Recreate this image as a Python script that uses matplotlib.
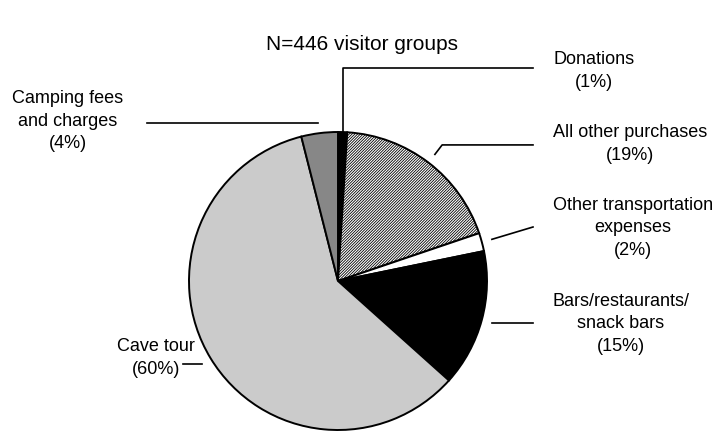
import numpy as np
import matplotlib.pyplot as plt

plt.rcParams['font.family'] = ['Liberation Sans', 'DejaVu Sans']
plt.rcParams['hatch.linewidth'] = 0.6

# data
names = ['Donations', 'All other purchases', 'Other transportation\nexpenses',
         'Bars/restaurants/\nsnack bars', 'Cave tour', 'Camping fees\nand charges']
values = [1, 19, 2, 15, 60, 4]
colors = ['black', 'white', 'white', 'black', '#cbcbcb', '#878787']
hatches = [None, '/' * 12, None, None, None, None]
title = 'N=446 visitor groups'

W, H = 723, 434
cx, cy, rad = 338, 281, 149   # pie centre/radius in pixels (from top)

# label layout in pixels from top: text centre, leader end x
text_pos = [(594, 71), (630, 144), (633, 228), (621, 324), (156, 358), (68, 121)]
line_end = [533, 533, 533, 533, 183, 147]

fig = plt.figure(figsize=(W / 100, H / 100), dpi=100)
ax = fig.add_axes([0, 0, 1, 1])

wedges, _ = ax.pie(values, startangle=90, counterclock=False,
                   center=(cx, H - cy), radius=rad, colors=colors,
                   wedgeprops=dict(edgecolor='black', linewidth=1.4))
for w, h in zip(wedges, hatches):
    if h:
        w.set_hatch(h)

ax.set_xlim(0, W)
ax.set_ylim(0, H)
ax.set_aspect('equal')
ax.axis('off')


def edge_pt(w, r):
    a = np.deg2rad((w.theta1 + w.theta2) / 2)
    return cx + r * rad * np.cos(a), H - cy + r * rad * np.sin(a)


for i, (w, name, v) in enumerate(zip(wedges, names, values)):
    tx, ty = text_pos[i]
    ax.text(tx, H - ty, f'{name}\n({v}%)', ha='center', va='center',
            fontsize=13, linespacing=1.4)
    if i == 0:
        # straight up from the slice, then right
        x0, y0 = edge_pt(w, 1.0)
        ly = H - 68
        xs, ys = [x0, x0, line_end[i]], [y0, ly, ly]
    elif i == 1:
        x0, y0 = edge_pt(w, 1.07)
        x1, y1 = edge_pt(w, 1.15)
        xs, ys = [x0, x1, line_end[i]], [y0, y1, y1]
    elif i == 2:
        x0, y0 = edge_pt(w, 1.07)
        xs, ys = [x0, line_end[i]], [y0, H - 227]
    else:
        x0, y0 = edge_pt(w, 1.07)
        xs, ys = [x0, line_end[i]], [y0, y0]
    ax.plot(xs, ys, color='black', lw=1.2)

ax.text(W / 2, H - 45, title, ha='center', va='center', fontsize=15)

fig.savefig('out.png', dpi=100)
